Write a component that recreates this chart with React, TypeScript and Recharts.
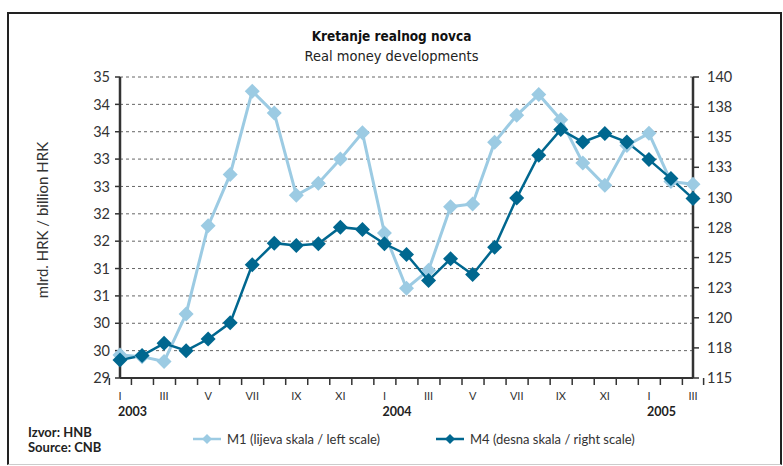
import React from 'react'
import { LineChart, Line, XAxis, YAxis, CartesianGrid } from 'recharts'

// months I 2003 .. III 2005
const months = [
  'I', 'II', 'III', 'IV', 'V', 'VI', 'VII', 'VIII', 'IX', 'X', 'XI', 'XII',
  'I', 'II', 'III', 'IV', 'V', 'VI', 'VII', 'VIII', 'IX', 'X', 'XI', 'XII',
  'I', 'II', 'III',
]
const years = [
  '2003', '2003', '2003', '2003', '2003', '2003', '2003', '2003', '2003', '2003', '2003', '2003',
  '2004', '2004', '2004', '2004', '2004', '2004', '2004', '2004', '2004', '2004', '2004', '2004',
  '2005', '2005', '2005',
]

// M1, left scale (mlrd. HRK)
const m1 = [
  29.42, 29.39, 29.3, 30.17, 31.78, 32.72, 34.24, 33.84, 32.34, 32.56, 33.0, 33.48,
  31.65, 30.64, 30.97, 32.13, 32.18, 33.31, 33.8, 34.18, 33.72, 32.93, 32.52, 33.25,
  33.47, 32.59, 32.54,
]

// M4, right scale (mlrd. HRK)
const m4 = [
  116.5, 116.86, 117.88, 117.27, 118.24, 119.58, 124.4, 126.2, 126.0, 126.15, 127.53, 127.34,
  126.15, 125.26, 123.1, 124.9, 123.6, 125.87, 129.94, 133.5, 135.63, 134.6, 135.3, 134.6,
  133.14, 131.56, 129.9,
]

const leftTicks = [29, 29.5, 30, 30.5, 31, 31.5, 32, 32.5, 33, 33.5, 34, 34.5]
const rightTicks = [115, 117.5, 120, 122.5, 125, 127.5, 130, 132.5, 135, 137.5, 140]

const data = months.map((m, i) => ({
  period: `${m} ${years[i]}`,
  m1: m1[i],
  m4: m4[i],
}))

const LIGHT = '#9ccbe3'
const DARK = '#00678f'
const INK = '#333'
const FONT = 'Lato, "Open Sans", sans-serif'
const NARROW = '"Liberation Sans Narrow", "DejaVu Sans Condensed", sans-serif'

const PLOT_W = 573
const BAND = PLOT_W / months.length

const MonthTick = (props: any) => {
  const { x, y, payload } = props
  const i = payload.index
  const label = i % 2 === 0 ? months[i] : ''
  const showYear = months[i] === 'I'
  return (
    <g>
      <line x1={x - BAND / 2} y1={y} x2={x - BAND / 2} y2={y + 7} stroke={INK} strokeWidth={1.5} />
      {i === months.length - 1 && (
        <line x1={x + BAND / 2} y1={y} x2={x + BAND / 2} y2={y + 7} stroke={INK} strokeWidth={1.5} />
      )}
      <text x={x} y={y + 22} textAnchor="middle" fontSize={11} fill={INK} fontFamily={FONT}>
        {label}
      </text>
      {showYear && (
        <text x={x - 2} y={y + 38} textAnchor="start" fontSize={12.5} fontWeight="bold" fill="#222" fontFamily={FONT}>
          {years[i]}
        </text>
      )}
    </g>
  )
}

const diamond = (color: string) => (props: any) => {
  const { cx, cy, index } = props
  const r = 7.5
  return (
    <polygon
      key={`d-${color}-${index}`}
      points={`${cx},${cy - r} ${cx + r},${cy} ${cx},${cy + r} ${cx - r},${cy}`}
      fill={color}
      stroke="none"
    />
  )
}

const LegendIcon = ({ color }: { color: string }) => (
  <svg width={28} height={12} style={{ verticalAlign: 'middle', marginRight: 6 }}>
    <line x1={0} y1={6} x2={28} y2={6} stroke={color} strokeWidth={2.5} />
    <polygon points="14,1 19,6 14,11 9,6" fill={color} />
  </svg>
)

export default function App() {
  return (
    <div style={{ position: 'absolute', left: 0, top: 0, width: 783, height: 466, background: '#fff', fontFamily: FONT }}>
      <div
        style={{
          position: 'absolute', left: 7, top: 12, width: 771, height: 450,
          borderLeft: '2px solid #222', borderTop: '2px solid #222', borderRight: '2px solid #222',
          borderBottom: '1px solid #ccc',
        }}
      />
      <div style={{ position: 'absolute', left: 0, width: 783, top: 28, textAlign: 'center', fontFamily: NARROW, fontWeight: 'bold', fontSize: 13.5, color: '#111' }}>
        Kretanje realnog novca
      </div>
      <div style={{ position: 'absolute', left: 0, width: 783, top: 48, textAlign: 'center', fontFamily: NARROW, fontSize: 14.5, color: '#222' }}>
        Real money developments
      </div>
      <div style={{ position: 'absolute', left: 42, top: 220, width: 0, height: 0 }}>
        <div style={{ position: 'absolute', transform: 'translate(-50%, -50%) rotate(-90deg)', whiteSpace: 'nowrap', fontSize: 15, color: INK }}>
          mlrd. HRK / billion HRK
        </div>
      </div>
      <div style={{ position: 'absolute', left: 0, top: 0 }}>
        <LineChart width={783} height={466} data={data} margin={{ top: 77, right: 30, left: 60, bottom: 58 }}>
          <CartesianGrid yAxisId="left" vertical={false} stroke="#666" strokeDasharray="3 3" />
          <XAxis
            dataKey="period"
            interval={0}
            height={30}
            tickSize={0}
            tickMargin={0}
            tickLine={false}
            tick={<MonthTick />}
            axisLine={{ stroke: INK, strokeWidth: 2 }}
          />
          <YAxis
            yAxisId="left"
            domain={[29, 34.5]}
            ticks={leftTicks}
            interval={0}
            width={60}
            tickFormatter={(v: number) => String(Math.round(v))}
            tick={{ fill: INK, fontSize: 14.5, fontFamily: FONT }}
            tickSize={5}
            tickMargin={5}
            tickLine={{ stroke: INK, strokeWidth: 1.5 }}
            axisLine={{ stroke: INK, strokeWidth: 2.5 }}
          />
          <YAxis
            yAxisId="right"
            orientation="right"
            domain={[115, 140]}
            ticks={rightTicks}
            interval={0}
            width={60}
            tickFormatter={(v: number) => String(Math.round(v))}
            tick={{ fill: INK, fontSize: 14.5, fontFamily: FONT }}
            tickSize={6}
            tickMargin={8}
            tickLine={{ stroke: INK, strokeWidth: 1.5 }}
            axisLine={{ stroke: INK, strokeWidth: 2.5 }}
          />
          <Line
            yAxisId="left"
            dataKey="m1"
            stroke={LIGHT}
            strokeWidth={3}
            dot={diamond(LIGHT)}
            activeDot={false}
            isAnimationActive={false}
          />
          <Line
            yAxisId="right"
            dataKey="m4"
            stroke={DARK}
            strokeWidth={2.5}
            dot={diamond(DARK)}
            activeDot={false}
            isAnimationActive={false}
          />
        </LineChart>
      </div>
      <div style={{ position: 'absolute', left: 28, top: 425, fontWeight: 'bold', fontSize: 13, lineHeight: '15px', color: '#222' }}>
        <div>Izvor: HNB</div>
        <div>Source: CNB</div>
      </div>
      <div style={{ position: 'absolute', left: 193, top: 431, fontSize: 13, color: INK, whiteSpace: 'nowrap', display: 'flex', alignItems: 'center' }}>
        <LegendIcon color={LIGHT} />
        <span>M1 (lijeva skala / left scale)</span>
      </div>
      <div style={{ position: 'absolute', left: 436, top: 431, fontSize: 13, color: INK, whiteSpace: 'nowrap', display: 'flex', alignItems: 'center' }}>
        <LegendIcon color={DARK} />
        <span>M4 (desna skala / right scale)</span>
      </div>
    </div>
  )
}
